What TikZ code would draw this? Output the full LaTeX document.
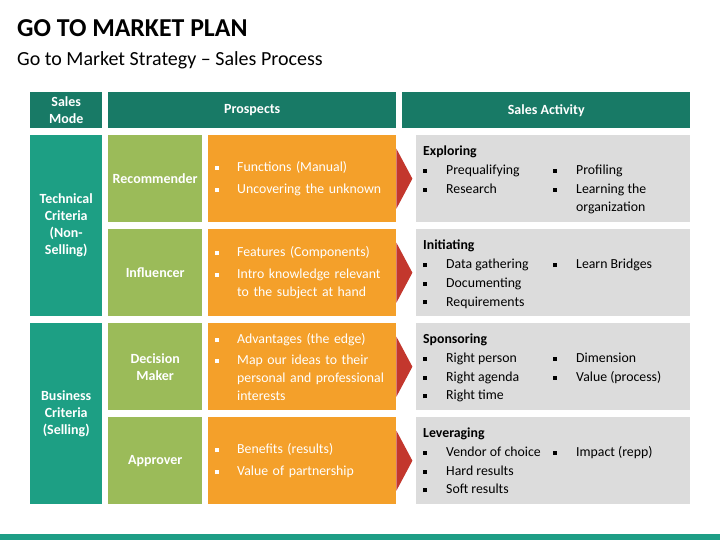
\documentclass[tikz,border=0pt]{standalone}
\usepackage{fontspec}
\setmainfont{Carlito}
\usepackage{tikz}
\usetikzlibrary{calc}

\definecolor{hdrteal}{HTML}{187A66}
\definecolor{modeteal}{HTML}{1D9F84}
\definecolor{rolegreen}{HTML}{9BBB59}
\definecolor{prosorange}{HTML}{F4A02A}
\definecolor{tipred}{HTML}{C3372D}
\definecolor{actgray}{HTML}{DCDCDC}
\definecolor{barteal}{HTML}{1E9E86}

\newcommand{\sqb}{\raisebox{1.6pt}{\rule{4pt}{4pt}}}
\newcommand{\bul}[1][22pt]{\makebox[#1][l]{\sqb}}
\newcommand{\one}[1]{\bul[23pt]#1}
\newcommand{\two}[2]{\makebox[130pt][l]{\bul[23pt]#1}\bul[23pt]#2}

\tikzset{
  box/.style={anchor=north west, inner sep=0pt, text=white, align=center,
    font=\bfseries\fontsize{14}{17}\selectfont},
  hdr/.style={box, fill=hdrteal, minimum height=36pt},
  mode/.style={box, fill=modeteal, minimum width=72pt, minimum height=181pt},
  role/.style={box, fill=rolegreen, minimum width=94pt, minimum height=87pt},
  pros/.style={anchor=north west, fill=prosorange, text=white, align=left,
    minimum width=188pt, minimum height=87pt, inner xsep=7pt, inner ysep=0pt,
    text width=174pt, font=\fontsize{13.8}{18}\selectfont},
  act/.style={anchor=north west, fill=actgray, inner sep=0pt,
    minimum width=274pt, minimum height=87pt},
  acttxt/.style={anchor=north west, inner sep=0pt, align=left,
    font=\fontsize{13.8}{18.7}\selectfont}
}

\begin{document}
\begin{tikzpicture}[x=1pt,y=-1pt]
    \useasboundingbox (0,0) rectangle (720,540);
    % title
    \node[anchor=base west, inner sep=0pt, font=\bfseries\fontsize{25.8}{30}\selectfont] (title) at (17,37) {GO TO MARKET PLAN};
    \node[anchor=base west, inner sep=0pt, font=\fontsize{20}{24}\selectfont] (subtitle) at (17,66) {Go to Market Strategy -- Sales Process};
    % header row
    \node[hdr, minimum width=72pt] (hmode) at (30,92) {Sales\\Mode};
    \node[hdr, minimum width=288pt] (hpros) at (108,92) {Prospects};
    \node[hdr, minimum width=288pt] (hact) at (402,92) {Sales Activity};
    % sales mode
    \node[mode] (mtech) at (30,135) {Technical\\Criteria\\(Non-\\Selling)};
    \node[mode] (mbus) at (30,323) {Business\\Criteria\\(Selling)};
    % prospects
    \node[role] (rrec) at (108,135) {Recommender};
    \node[role] (rinf) at (108,229) {Influencer};
    \node[role] (rdec) at (108,323) {Decision\\Maker};
    \node[role] (rapp) at (108,417) {Approver};
    \node[pros] (prec) at (208,135) {\bul Functions (Manual)\\[4pt]\bul Uncovering the unknown};
    \node[pros] (pinf) at (208,229) {\bul Features (Components)\\[4pt]\bul Intro knowledge relevant\\\hspace*{22pt}to the subject at hand};
    \node[pros] (pdec) at (208,323) {\bul Advantages (the edge)\\[3pt]\bul Map our ideas to their\\\hspace*{22pt}personal and professional\\\hspace*{22pt}interests};
    \node[pros] (papp) at (208,417) {\bul Benefits (results)\\[4pt]\bul Value of partnership};
    \fill[tipred] ($(prec.east)+(0,-30)$) -- ($(prec.east)+(16,0)$) -- ($(prec.east)+(0,30)$) -- cycle;
    \fill[tipred] ($(pinf.east)+(0,-30)$) -- ($(pinf.east)+(16,0)$) -- ($(pinf.east)+(0,30)$) -- cycle;
    \fill[tipred] ($(pdec.east)+(0,-30)$) -- ($(pdec.east)+(16,0)$) -- ($(pdec.east)+(0,30)$) -- cycle;
    \fill[tipred] ($(papp.east)+(0,-30)$) -- ($(papp.east)+(16,0)$) -- ($(papp.east)+(0,30)$) -- cycle;
    % sales activity
    \node[act] (aexp) at (416,135) {};
    \node[act] (aini) at (416,229) {};
    \node[act] (aspo) at (416,323) {};
    \node[act] (alev) at (416,417) {};
    \node[acttxt] (texp) at ($(aexp.north west)+(7,11)$) {\textbf{Exploring}\\\two{Prequalifying}{Profiling}\\\two{Research}{Learning the}\\\hspace*{153pt}organization};
    \node[acttxt] (tini) at ($(aini.north west)+(7,11)$) {\textbf{Initiating}\\\two{Data gathering}{Learn Bridges}\\\one{Documenting}\\\one{Requirements}};
    \node[acttxt] (tspo) at ($(aspo.north west)+(7,11)$) {\textbf{Sponsoring}\\\two{Right person}{Dimension}\\\two{Right agenda}{Value (process)}\\\one{Right time}};
    \node[acttxt] (tlev) at ($(alev.north west)+(7,11)$) {\textbf{Leveraging}\\\two{Vendor of choice}{Impact (repp)}\\\one{Hard results}\\\one{Soft results}};
    % bottom bar
    \fill[barteal] (0,534) rectangle (720,540);
\end{tikzpicture}
\end{document}
